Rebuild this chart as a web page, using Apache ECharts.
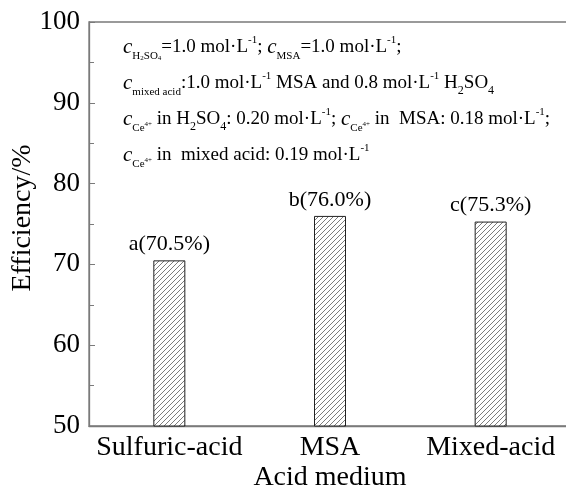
<!DOCTYPE html>
<html>
<head>
<meta charset="utf-8">
<script src="https://cdn.jsdelivr.net/npm/echarts@6/dist/echarts.min.js"></script>
<style>
  html, body { margin: 0; padding: 0; background: #fff; }
  #chart { width: 566px; height: 491px; }
</style>
</head>
<body>
<div id="chart"></div>
<script>
// Acid media and the measured efficiencies (%)
const categories = ['Sulfuric-acid', 'MSA', 'Mixed-acid'];
const efficiency = [70.5, 76.0, 75.3];
const groupLetters = ['a', 'b', 'c'];
const yTicks = { min: 50, max: 100, step: 10 };

const SERIF = '"Liberation Serif", "Times New Roman", serif';
const AXIS_GRAY = '#7a7a7a';

// Diagonal hatch used as the bar fill
function hatchPattern() {
  const s = 5;
  const c = document.createElement('canvas');
  c.width = s; c.height = s;
  const g = c.getContext('2d');
  g.fillStyle = '#fff';
  g.fillRect(0, 0, s, s);
  g.strokeStyle = '#444';
  g.lineWidth = 0.7;
  g.beginPath();
  for (let k = -1; k <= 1; k++) {
    g.moveTo(k * s, s);
    g.lineTo(k * s + s, 0);
  }
  g.stroke();
  return c;
}

// Rich-text note with sub/superscripts
const noteLines = [
  '{ci|c}{s|H}{ss|2}{s|SO}{ss|4}{t|=1.0 mol·L}{sup|-1}{t|; }{ci|c}{s|MSA}{t|=1.0 mol·L}{sup|-1}{t|;}',
  '{ci|c}{s|mixed acid}{t|:1.0 mol·L}{sup|-1}{t| MSA and 0.8 mol·L}{sup|-1}{t| H}{sub|2}{t|SO}{sub|4}',
  '{ci|c}{s|Ce}{ce|4+}{t| in H}{sub|2}{t|SO}{sub|4}{t|: 0.20 mol·L}{sup|-1}{t|; }{ci|c}{s|Ce}{ce|4+}{t| in  MSA: 0.18 mol·L}{sup|-1}{t|;}',
  '{ci|c}{s|Ce}{ce|4+}{t| in  mixed acid: 0.19 mol·L}{sup|-1}'
];

const chart = echarts.init(document.getElementById('chart'), null, { renderer: 'canvas' });

chart.setOption({
  animation: false,
  backgroundColor: '#fff',
  grid: {
    left: 89, top: 22, width: 482, height: 404,
    show: true, borderColor: AXIS_GRAY, borderWidth: 1.3,
    outerBoundsMode: 'none'
  },
  xAxis: {
    type: 'category',
    data: categories,
    name: 'Acid medium',
    nameLocation: 'middle',
    nameGap: 38,
    nameMoveOverlap: false,
    nameTextStyle: { fontFamily: SERIF, fontSize: 28, color: '#000' },
    axisLine: { lineStyle: { color: AXIS_GRAY, width: 1.3 } },
    axisTick: { show: true, inside: true, alignWithLabel: true, length: 5, lineStyle: { color: AXIS_GRAY } },
    axisLabel: { fontFamily: SERIF, fontSize: 28, color: '#000', margin: 8, interval: 0, hideOverlap: false },
    splitLine: { show: false }
  },
  yAxis: {
    type: 'value',
    min: yTicks.min, max: yTicks.max, interval: yTicks.step,
    name: 'Efficiency/%',
    nameLocation: 'middle',
    nameRotate: 90,
    nameGap: 52,
    nameMoveOverlap: false,
    nameTextStyle: { fontFamily: SERIF, fontSize: 28, color: '#000', padding: [0, 0, 0, 12] },
    axisLine: { show: true, lineStyle: { color: AXIS_GRAY, width: 1.3 } },
    axisTick: { show: true, inside: true, length: 6, lineStyle: { color: AXIS_GRAY } },
    minorTick: { show: true, splitNumber: 2, length: 5, lineStyle: { color: AXIS_GRAY } },
    axisLabel: { fontFamily: SERIF, fontSize: 27, color: '#000', margin: 9 },
    splitLine: { show: false }
  },
  series: [{
    type: 'bar',
    data: efficiency,
    barWidth: 32,
    itemStyle: {
      color: { image: hatchPattern(), repeat: 'repeat' },
      borderColor: '#222',
      borderWidth: 1
    },
    label: {
      show: true,
      position: 'top',
      distance: 5,
      fontFamily: SERIF,
      fontSize: 22,
      color: '#000',
      formatter: p => groupLetters[p.dataIndex] + '(' + p.value.toFixed(1) + '%)'
    }
  }],
  graphic: [{
    type: 'text',
    left: 123,
    top: 29,
    style: {
      text: noteLines.join('\n'),
      rich: {
        t:   { fontFamily: SERIF, fontSize: 19, lineHeight: 36, color: '#000' },
        ci:  { fontFamily: SERIF, fontSize: 21, fontStyle: 'italic', lineHeight: 36, color: '#000' },
        s:   { fontFamily: SERIF, fontSize: 11, lineHeight: 11, verticalAlign: 'bottom', padding: [0, 0, 3, 0], color: '#000' },
        ss:  { fontFamily: SERIF, fontSize: 7, lineHeight: 7, verticalAlign: 'bottom', padding: [0, 0, 3, 0], color: '#000' },
        sub: { fontFamily: SERIF, fontSize: 12, lineHeight: 12, verticalAlign: 'bottom', padding: [0, 0, 4, 0], color: '#000' },
        sup: { fontFamily: SERIF, fontSize: 11, lineHeight: 11, verticalAlign: 'top', padding: [6, 0, 0, 0], color: '#000' },
        ce:  { fontFamily: SERIF, fontSize: 7, lineHeight: 7, verticalAlign: 'bottom', padding: [0, 0, 9, 0], color: '#000' }
      }
    }
  }]
});
</script>
</body>
</html>
